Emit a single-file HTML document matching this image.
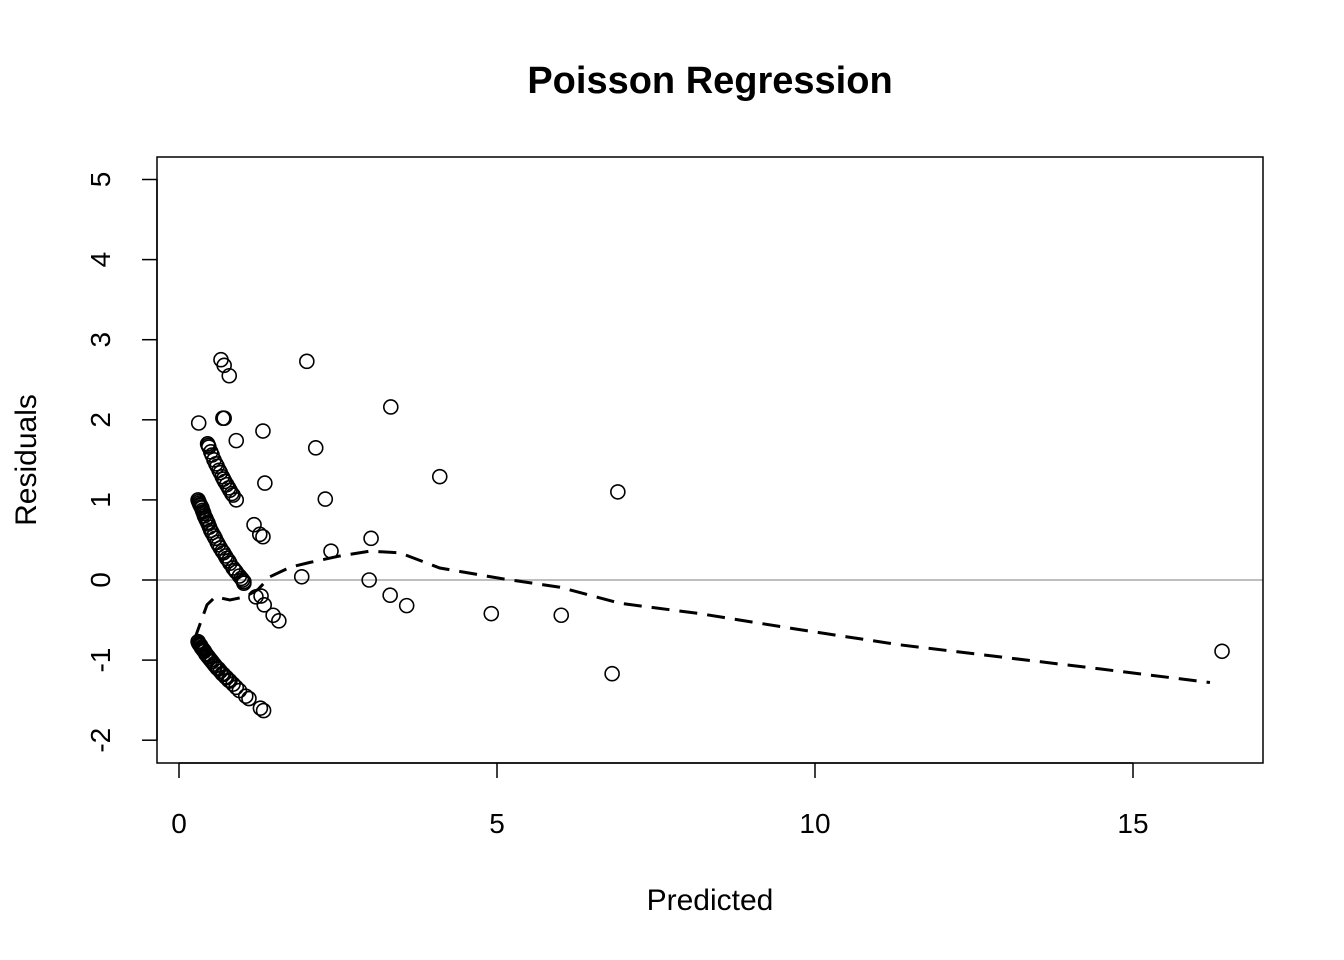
<!DOCTYPE html>
<html><head><meta charset="utf-8"><style>
html,body{margin:0;padding:0;background:#fff;}
svg{display:block;font-family:"Liberation Sans",Arial,sans-serif;}
</style></head><body>
<svg id="chart" width="1344" height="960" viewBox="0 0 1344 960" xmlns="http://www.w3.org/2000/svg"></svg>
<script>
const xTicks=[0,5,10,15];
const yTicks=[-2,-1,0,1,2,3,4,5];
const predX=[0.30,0.31,0.32,0.33,0.34,0.35,0.36,0.37,0.38,0.39,0.40,0.42,0.43,0.45,0.46,0.48,0.50,0.52,0.55,0.57,0.60,0.62,0.65,0.68,0.70,0.73,0.75,0.78,0.80,0.85,0.88,0.90,0.95,0.98,1.00,1.02,
0.30,0.31,0.32,0.33,0.34,0.35,0.36,0.37,0.38,0.39,0.40,0.42,0.43,0.45,0.46,0.48,0.50,0.52,0.55,0.57,0.60,0.62,0.65,0.68,0.70,0.73,0.75,0.78,0.80,0.85,0.90,0.95,1.05,1.10,1.28,1.33,
0.45,0.46,0.47,0.50,0.52,0.55,0.58,0.60,0.63,0.65,0.68,0.70,0.72,0.75,0.78,0.80,0.83,0.85,0.90,
0.31,0.69,0.71,0.66,0.71,0.79,0.90,1.32,1.35,1.18,1.27,1.32,1.29,1.21,1.34,1.48,1.57,1.02,
2.01,2.15,2.30,2.39,1.93,3.02,2.99,3.32,3.58,3.33,4.10,4.91,6.01,6.81,6.90,16.40];
const residY=[1.00,0.98,0.96,0.94,0.93,0.91,0.90,0.87,0.85,0.83,0.80,0.77,0.75,0.72,0.70,0.66,0.62,0.59,0.55,0.52,0.47,0.44,0.40,0.36,0.34,0.30,0.27,0.24,0.21,0.15,0.12,0.10,0.05,0.02,0.00,-0.02,
-0.77,-0.79,-0.80,-0.81,-0.82,-0.84,-0.85,-0.86,-0.87,-0.88,-0.89,-0.92,-0.93,-0.95,-0.96,-0.98,-1.00,-1.02,-1.05,-1.07,-1.10,-1.11,-1.14,-1.17,-1.18,-1.21,-1.22,-1.25,-1.26,-1.30,-1.34,-1.38,-1.45,-1.48,-1.60,-1.63,
1.70,1.68,1.66,1.60,1.56,1.50,1.45,1.42,1.37,1.34,1.29,1.26,1.23,1.19,1.15,1.12,1.08,1.06,1.00,
1.96,2.02,2.02,2.75,2.68,2.55,1.74,1.86,1.21,0.69,0.57,0.54,-0.20,-0.21,-0.31,-0.44,-0.51,-0.04,
2.73,1.65,1.01,0.36,0.04,0.52,0.00,-0.19,-0.32,2.16,1.29,-0.42,-0.44,-1.17,1.10,-0.89];
const smoothX=[0.24,0.44,0.57,0.80,1.04,1.24,1.43,1.75,2.06,2.53,3.00,3.47,4.10,5.05,5.99,6.93,8.19,9.76,11.34,12.91,14.48,16.21];
const smoothY=[-0.75,-0.31,-0.21,-0.25,-0.21,-0.12,0.04,0.16,0.22,0.30,0.36,0.34,0.15,0.02,-0.09,-0.29,-0.42,-0.62,-0.81,-0.96,-1.11,-1.28];

const svg=document.getElementById('chart');
const NS='http://www.w3.org/2000/svg';
const sx=v=>179+v*63.6;
const sy=v=>580-v*80.1;
function mk(tag,attrs,parent){const e=document.createElementNS(NS,tag);for(const k in attrs)e.setAttribute(k,attrs[k]);(parent||svg).appendChild(e);return e;}

let t=mk('text',{x:710,y:93,'text-anchor':'middle','font-size':'38','font-weight':'bold'});t.textContent='Poisson Regression';



let z=mk('line',{x1:157,x2:1263,y1:sy(0),y2:sy(0),stroke:'#bebebe','stroke-width':2});



let box=mk('rect',{x:157,y:157,width:1106,height:606,fill:'none',stroke:'#000','stroke-width':1.5});



const xa=mk('g',{});


mk('line',{x1:sx(xTicks[0]),x2:sx(xTicks[xTicks.length-1]),y1:763,y2:763,stroke:'#000','stroke-width':1.5},xa);
xTicks.forEach(v=>{mk('line',{x1:sx(v),x2:sx(v),y1:763,y2:778,stroke:'#000','stroke-width':1.5},xa);
 const l=mk('text',{x:sx(v),y:833,'text-anchor':'middle','font-size':'28'},xa);l.textContent=v;
 
 });
const ya=mk('g',{});


mk('line',{x1:157,x2:157,y1:sy(yTicks[0]),y2:sy(yTicks[yTicks.length-1]),stroke:'#000','stroke-width':1.5},ya);
yTicks.forEach(v=>{mk('line',{x1:142,x2:157,y1:sy(v),y2:sy(v),stroke:'#000','stroke-width':1.5},ya);
 const l=mk('text',{x:110,y:sy(v),'text-anchor':'middle','font-size':'28',transform:`rotate(-90 110 ${sy(v)})`},ya);l.textContent=v;
 
 });
let xt=mk('text',{x:710,y:910,'text-anchor':'middle','font-size':'30'});xt.textContent='Predicted';


let yt=mk('text',{x:36,y:460,'text-anchor':'middle','font-size':'30',transform:'rotate(-90 36 460)'});yt.textContent='Residuals';



const pts=mk('g',{});


predX.forEach((v,i)=>{const c=mk('circle',{cx:sx(v),cy:sy(residY[i]),r:7,fill:'none',stroke:'#000','stroke-width':1.6},pts);
 
 });

const p=mk('polyline',{points:smoothX.map((v,i)=>sx(v)+','+sy(smoothY[i])).join(' '),fill:'none',stroke:'#000','stroke-width':3,'stroke-dasharray':'18,10'});


</script>
</body></html>
